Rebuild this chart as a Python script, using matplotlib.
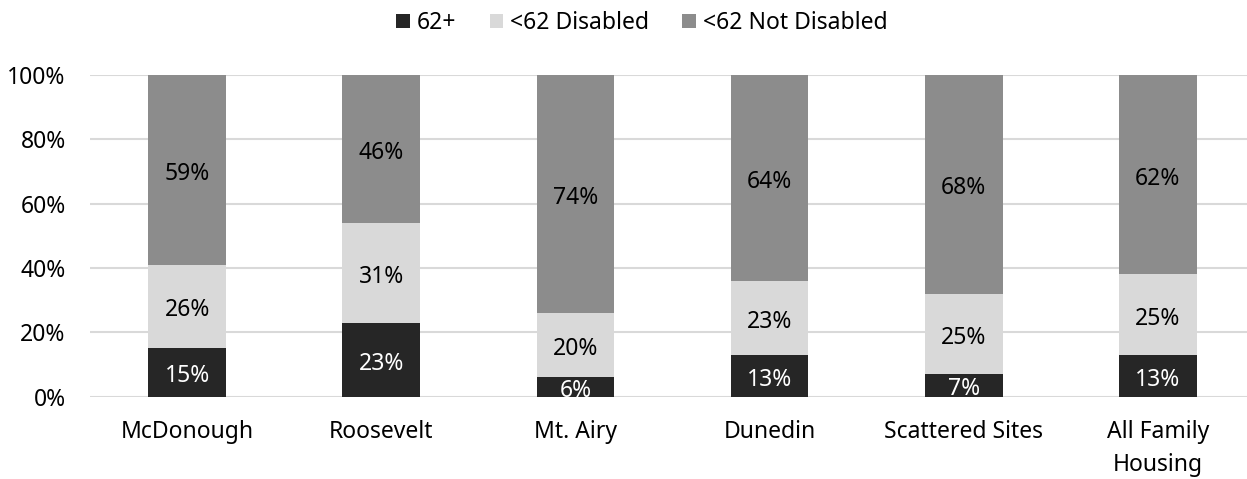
import matplotlib
matplotlib.use("Agg")
import matplotlib.pyplot as plt
import matplotlib.transforms as mtransforms
import numpy as np

plt.rcParams['font.family'] = ['Noto Sans', 'DejaVu Sans']

categories = ["McDonough", "Roosevelt", "Mt. Airy", "Dunedin", "Scattered Sites", "All Family\nHousing"]
series_names = ["62+", "<62 Disabled", "<62 Not Disabled"]
over62 = [15, 23, 6, 13, 7, 13]
disabled = [26, 31, 20, 23, 25, 25]
not_disabled = [59, 46, 74, 64, 68, 62]
yticks = [0, 20, 40, 60, 80, 100]

colors = ["#262626", "#d9d9d9", "#8c8c8c"]
text_colors = ["white", "black", "black"]
FS = 16.5

fig = plt.figure(figsize=(12.47, 4.79), dpi=100)
ax = fig.add_axes([90/1247, 1 - 396.5/479, (1255-90)/1247, (396.5-75)/479])
lbl_tr = mtransforms.offset_copy(ax.transData, fig=fig, x=0, y=-4, units='dots')

x = np.arange(len(categories))
bottom = np.zeros(len(categories))
for vals, name, col, tc in zip([over62, disabled, not_disabled], series_names, colors, text_colors):
    vals = np.array(vals, dtype=float)
    ax.bar(x, vals, 0.40, bottom=bottom, color=col, label=name, zorder=3)
    for xi, b, v in zip(x, bottom, vals):
        ax.text(xi, b + v / 2, f"{int(v)}%", ha="center", va="center",
                color=tc, fontsize=FS, zorder=4, clip_on=True, transform=lbl_tr)
    bottom += vals

ax.set_xlim(-0.5, len(categories) - 0.5)
ax.set_ylim(0, 100)
ax.set_yticks(yticks)
ax.set_yticklabels([f"{t}%" for t in yticks], fontsize=FS)
ax.set_xticks(x)
ax.set_xticklabels(categories, fontsize=FS, linespacing=1.52)
ax.tick_params(axis="both", length=0, colors="black")
ax.tick_params(axis="y", pad=17.5)
ax.tick_params(axis="x", pad=17)
ax.yaxis.grid(True, color="#d9d9d9", linewidth=1.5, zorder=0)
for s in ax.spines.values():
    s.set_visible(False)

fig.legend(loc="center", bbox_to_anchor=(642/1247, 1 - 23/479), ncol=3, frameon=False,
           fontsize=FS, handlelength=0.6, handleheight=0.6, handletextpad=0.3,
           columnspacing=1.45)

fig.savefig("out.png", dpi=100)
